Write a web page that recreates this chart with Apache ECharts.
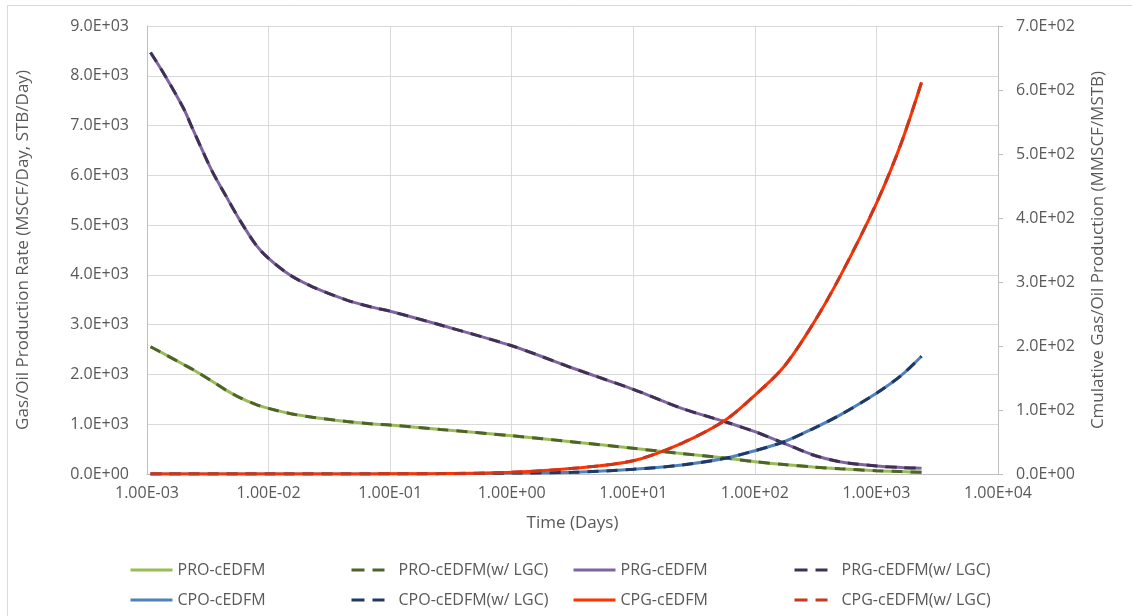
<!DOCTYPE html>
<html>
<head>
<meta charset="utf-8">
<title>cEDFM production</title>
<script src="https://cdn.jsdelivr.net/npm/echarts@6/dist/echarts.min.js"></script>
<style>
  html, body { margin: 0; padding: 0; background: #fff; }
  #chart { width: 1132px; height: 616px; }
</style>
</head>
<body>
<div id="chart"></div>
<script>
// time (days), shared by every curve
const times = [0.00107, 0.0014, 0.002, 0.0024, 0.0034, 0.0045, 0.0058, 0.0079, 0.01, 0.015, 0.023, 0.044, 0.072, 0.1, 0.26, 1, 3.2, 10, 25, 57, 100, 174, 302, 500, 1000, 1600, 2350]

// rates, left axis (MSCF/Day, STB/Day)
const proRate = [2556, 2405, 2200, 2095, 1870, 1680, 1535, 1395, 1319, 1215, 1140, 1055, 1005, 984, 895, 769, 645, 516, 410, 320, 247, 190, 140, 105, 66, 48, 34]
const prgRate = [8468, 8012, 7343, 6908, 6104, 5568, 5100, 4598, 4331, 3996, 3761, 3494, 3347, 3270, 2992, 2576, 2125, 1700, 1319, 1050, 850, 616, 381, 247, 161, 130, 114]

// cumulative, right axis (MMSCF/MSTB)
const cpoCum = [0, 0, 0, 0, 0, 0, 0, 0, 0.01, 0.01, 0.02, 0.03, 0.05, 0.07, 0.2, 1.5, 2.6, 7.3, 14, 24.5, 36.4, 50.4, 71, 92, 126, 154, 184]
const cpgCum = [0, 0, 0, 0, 0, 0, 0, 0, 0.02, 0.05, 0.07, 0.12, 0.18, 0.25, 0.6, 2.6, 8.8, 20.8, 48, 84, 123, 168, 235, 308, 423, 517, 612]

// the LGC runs overlay the base runs within reading accuracy
const proRateLGC = proRate
const prgRateLGC = prgRate
const cpoCumLGC = cpoCum
const cpgCumLGC = cpgCum

const textColor = '#595959'
const font = 'Open Sans'
const dash = [11, 8]

function sci(v, digits) {
  if (!v) return (0).toFixed(digits) + 'E+00'
  const e = Math.floor(Math.log10(Math.abs(v)) + 1e-9)
  const m = v / Math.pow(10, e)
  return m.toFixed(digits) + 'E' + (e < 0 ? '-' : '+') + String(Math.abs(e)).padStart(2, '0')
}

function pairs(vals) {
  return times.map((t, i) => [t, vals[i]])
}

function line(name, vals, color, yIndex, dashed) {
  return {
    name,
    type: 'line',
    yAxisIndex: yIndex,
    data: pairs(vals),
    smooth: 0.3,
    symbol: 'none',
    lineStyle: { color, width: 3, type: dashed ? dash : 'solid' },
    itemStyle: { color }
  }
}

const series = [
  line('PRO-cEDFM', proRate, '#9BBB59', 0, false),
  line('PRO-cEDFM(w/ LGC)', proRateLGC, '#4F6228', 0, true),
  line('PRG-cEDFM', prgRate, '#8064A2', 0, false),
  line('PRG-cEDFM(w/ LGC)', prgRateLGC, '#3F3151', 0, true),
  line('CPO-cEDFM', cpoCum, '#4F81BD', 1, false),
  line('CPO-cEDFM(w/ LGC)', cpoCumLGC, '#1F3864', 1, true),
  line('CPG-cEDFM', cpgCum, '#FF3300', 1, false),
  line('CPG-cEDFM(w/ LGC)', cpgCumLGC, '#C8361C', 1, true)
]

const legendDash = [13, 8, 12, 40]
function legendCol(left, names, dashed) {
  return {
    orient: 'vertical',
    left,
    top: 562,
    padding: 0,
    itemWidth: 42,
    itemHeight: 14,
    itemGap: 14,
    itemTextGap: 5,
    textStyle: { color: textColor, fontSize: 16, fontFamily: font },
    lineStyle: { width: 3, type: dashed ? legendDash : 'solid' },
    itemStyle: { opacity: 0 },
    data: names
  }
}

const chart = echarts.init(document.getElementById('chart'))

chart.setOption({
  animation: false,
  backgroundColor: '#fff',
  graphic: [{
    type: 'rect',
    shape: { x: 7.5, y: 5.5, width: 1200, height: 700 },
    style: { fill: 'none', stroke: '#D9D9D9', lineWidth: 1 },
    silent: true,
    z: -1
  }],
  grid: { left: 147, right: 134, top: 26, bottom: 142 },
  legend: [
    legendCol(129, ['PRO-cEDFM', 'CPO-cEDFM'], false),
    legendCol(350, ['PRO-cEDFM(w/ LGC)', 'CPO-cEDFM(w/ LGC)'], true),
    legendCol(572, ['PRG-cEDFM', 'CPG-cEDFM'], false),
    legendCol(793, ['PRG-cEDFM(w/ LGC)', 'CPG-cEDFM(w/ LGC)'], true)
  ],
  xAxis: {
    type: 'log',
    logBase: 10,
    min: 0.001,
    max: 10000,
    splitNumber: 7,
    name: 'Time (Days)',
    nameLocation: 'middle',
    nameGap: 41,
    nameTextStyle: { color: textColor, fontSize: 17, fontFamily: font },
    axisLine: { lineStyle: { color: '#BFBFBF' } },
    axisTick: { show: false },
    axisLabel: { color: textColor, fontSize: 16, fontFamily: font, margin: 11, formatter: v => sci(v, 2) },
    splitLine: { show: true, lineStyle: { color: '#D9D9D9' } }
  },
  yAxis: [
    {
      type: 'value',
      min: 0,
      max: 9000,
      interval: 1000,
      name: 'Gas/Oil Production Rate (MSCF/Day, STB/Day)',
      nameLocation: 'middle',
      nameGap: 115,
      nameTextStyle: { color: textColor, fontSize: 17, fontFamily: font },
      axisLine: { show: true, lineStyle: { color: '#BFBFBF' } },
      axisTick: { show: false },
      axisLabel: { color: textColor, fontSize: 16, fontFamily: font, margin: 18, formatter: v => sci(v, 1) },
      splitLine: { lineStyle: { color: '#D9D9D9' } }
    },
    {
      type: 'value',
      min: 0,
      max: 700,
      interval: 100,
      position: 'right',
      name: 'Cmulative Gas/Oil Production (MMSCF/MSTB)',
      nameLocation: 'middle',
      nameGap: 92,
      nameTextStyle: { color: textColor, fontSize: 17, fontFamily: font },
      axisLine: { show: true, lineStyle: { color: '#BFBFBF' } },
      axisTick: { show: true, length: 5, lineStyle: { color: '#BFBFBF' } },
      axisLabel: { color: textColor, fontSize: 16, fontFamily: font, margin: 18, formatter: v => sci(v, 1) },
      splitLine: { show: false }
    }
  ],
  series
})
</script>
</body>
</html>
